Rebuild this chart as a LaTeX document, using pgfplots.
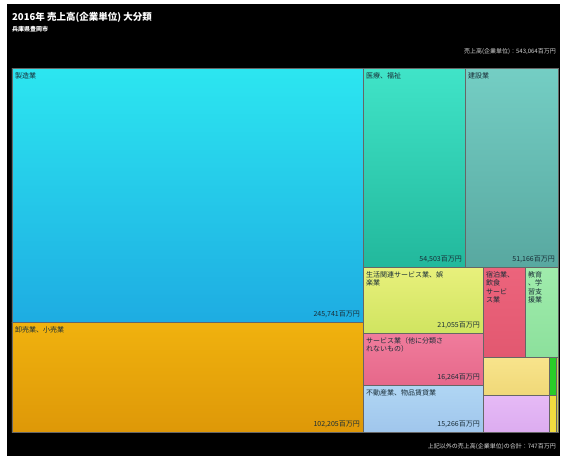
\documentclass[border=0pt]{standalone}
\usepackage{pgfplots}
\pgfplotsset{compat=1.18}
\usepackage{fontspec}
\setmainfont{Noto Sans CJK JP}
\definecolor{lab}{RGB}{25,45,55}
\begin{document}
\begin{tikzpicture}[x=1pt,y=1pt]
\fill[white] (0,0) rectangle (561,459);
\fill[black] (7,3) rectangle (560,455);
\node[anchor=west,text=white,font=\bfseries\fontsize{9.5pt}{10pt}\selectfont,inner sep=0] at (12,442) {2016年 売上高(企業単位) 大分類};
\node[anchor=west,text=white,font=\bfseries\fontsize{6pt}{7pt}\selectfont,inner sep=0] at (12,430) {兵庫県豊岡市};
\node[anchor=east,text=white!85!black,font=\fontsize{6pt}{7pt}\selectfont,inner sep=0] at (556,407) {売上高(企業単位)：543,064百万円};
\node[anchor=east,text=white!85!black,font=\fontsize{6pt}{7pt}\selectfont,inner sep=0] at (556,12) {上記以外の売上高(企業単位)の合計：747百万円};
\begin{axis}[at={(12pt,27pt)},anchor=south west,scale only axis,width=546pt,height=364pt,
  xmin=12,xmax=558,ymin=68,ymax=432,y dir=reverse,hide axis,clip=false,
  every axis plot/.append style={draw=black!60,line width=0.3pt}]
% manufacturing
\addplot[top color={rgb,255:red,44;green,230;blue,240},bottom color={rgb,255:red,30;green,172;blue,226}] coordinates {(12,68) (363,68) (363,322) (12,322)} -- cycle;
% wholesale
\addplot[top color={rgb,255:red,240;green,178;blue,14},bottom color={rgb,255:red,222;green,152;blue,8}] coordinates {(12,322) (363,322) (363,432) (12,432)} -- cycle;
% medical
\addplot[top color={rgb,255:red,64;green,228;blue,200},bottom color={rgb,255:red,34;green,184;blue,156}] coordinates {(363,68) (465,68) (465,267) (363,267)} -- cycle;
% construction
\addplot[top color={rgb,255:red,116;green,206;blue,196},bottom color={rgb,255:red,88;green,168;blue,160}] coordinates {(465,68) (558,68) (558,267) (465,267)} -- cycle;
% lifestyle
\addplot[top color={rgb,255:red,232;green,240;blue,124},bottom color={rgb,255:red,208;green,228;blue,96}] coordinates {(363,267) (483,267) (483,333) (363,333)} -- cycle;
% service
\addplot[top color={rgb,255:red,240;green,124;blue,156},bottom color={rgb,255:red,230;green,104;blue,138}] coordinates {(363,333) (483,333) (483,385) (363,385)} -- cycle;
% real estate
\addplot[top color={rgb,255:red,176;green,214;blue,244},bottom color={rgb,255:red,160;green,198;blue,236}] coordinates {(363,385) (483,385) (483,432) (363,432)} -- cycle;
% accommodation
\addplot[top color={rgb,255:red,236;green,100;blue,124},bottom color={rgb,255:red,226;green,88;blue,112}] coordinates {(483,267) (525,267) (525,357) (483,357)} -- cycle;
% education
\addplot[top color={rgb,255:red,160;green,236;blue,172},bottom color={rgb,255:red,140;green,224;blue,156}] coordinates {(525,267) (558,267) (558,357) (525,357)} -- cycle;
% small yellow
\addplot[top color={rgb,255:red,248;green,228;blue,140},bottom color={rgb,255:red,240;green,216;blue,120}] coordinates {(483,357) (549,357) (549,395) (483,395)} -- cycle;
% lavender
\addplot[top color={rgb,255:red,230;green,186;blue,246},bottom color={rgb,255:red,220;green,172;blue,240}] coordinates {(483,395) (549,395) (549,432) (483,432)} -- cycle;
% thin green
\addplot[fill={rgb,255:red,40;green,204;blue,40}] coordinates {(549,357) (556,357) (556,395) (549,395)} -- cycle;
% thin yellow
\addplot[fill={rgb,255:red,240;green,220;blue,64}] coordinates {(549,395) (556,395) (556,432) (549,432)} -- cycle;
\addplot[fill={rgb,255:red,200;green,200;blue,90}] coordinates {(556,357) (558,357) (558,432) (556,432)} -- cycle;
% labels
\begin{scope}[every node/.style={text=lab,font=\fontsize{7pt}{8.5pt}\selectfont,inner sep=0,align=left}]
\node[anchor=north west] at (axis cs:15,72) {製造業};
\node[anchor=south east] at (axis cs:360,318) {245,741百万円};
\node[anchor=north west] at (axis cs:15,326) {卸売業、小売業};
\node[anchor=south east] at (axis cs:360,428) {102,205百万円};
\node[anchor=north west] at (axis cs:366,72) {医療、福祉};
\node[anchor=south east] at (axis cs:462,263) {54,503百万円};
\node[anchor=north west] at (axis cs:468,72) {建設業};
\node[anchor=south east] at (axis cs:555,263) {51,166百万円};
\node[anchor=north west] at (axis cs:366,271) {生活関連サービス業、娯\\楽業};
\node[anchor=south east] at (axis cs:480,329) {21,055百万円};
\node[anchor=north west] at (axis cs:366,337) {サービス業（他に分類さ\\れないもの）};
\node[anchor=south east] at (axis cs:480,381) {16,264百万円};
\node[anchor=north west] at (axis cs:366,389) {不動産業、物品賃貸業};
\node[anchor=south east] at (axis cs:480,428) {15,266百万円};
\node[anchor=north west] at (axis cs:486,271) {宿泊業、\\飲食\\サービ\\ス業};
\node[anchor=north west] at (axis cs:528,271) {教育\\、学\\習支\\援業};
\end{scope}
\end{axis}
\end{tikzpicture}
\end{document}
